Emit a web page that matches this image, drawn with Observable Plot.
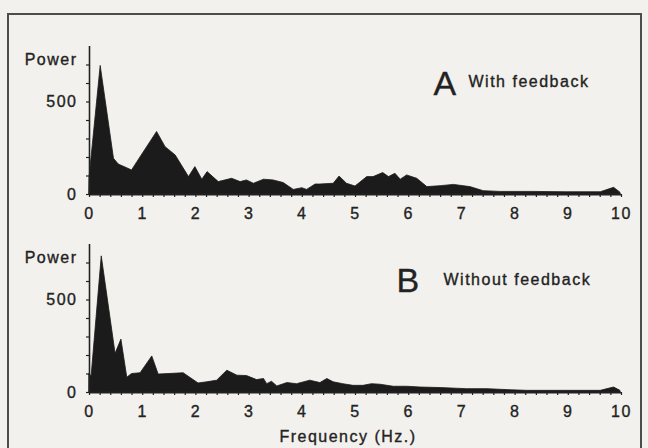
<!DOCTYPE html>
<html>
<head>
<meta charset="utf-8">
<script src="https://cdn.jsdelivr.net/npm/d3@7"></script>
<script src="https://cdn.jsdelivr.net/npm/@observablehq/plot@0.6"></script>
<style>
  html, body { margin: 0; padding: 0; background: #f2f1ed; }
  #page { position: relative; width: 648px; height: 448px; overflow: hidden; background: #f2f1ed;
          font-family: "Liberation Sans", Arial, Helvetica, sans-serif; color: #232323; }
  #box { position: absolute; left: 7px; top: 13px; width: 635px; height: 470px;
         border: 2px solid #4d4d4d; box-sizing: border-box; }
  .panel { position: absolute; left: 0; }
  .panel svg text { stroke: #232323; stroke-width: 0.35px; }
  #xlabel { position: absolute; left: 198px; width: 300px; top: 427px; line-height: 20px;
            text-align: center; font-size: 16px; letter-spacing: 1.5px; -webkit-text-stroke: 0.35px #232323; }
</style>
</head>
<body>
<div id="page">
  <div id="box"></div>
  <div id="panelA" class="panel" style="top:0px"></div>
  <div id="panelB" class="panel" style="top:198px"></div>
  <div id="xlabel">Frequency (Hz.)</div>
</div>
<script>
// Panel A: with feedback (frequency in Hz, power)
const freqA = [0, 0.21, 0.46, 0.55, 0.80, 0.90, 1.27, 1.43, 1.62, 1.87, 1.99, 2.12, 2.22, 2.43, 2.68,
  2.84, 2.96, 3.09, 3.28, 3.46, 3.65, 3.84, 4.00, 4.09, 4.25, 4.34, 4.59, 4.70, 4.84, 5.00,
  5.22, 5.34, 5.52, 5.63, 5.75, 5.85, 5.97, 6.16, 6.35, 6.60, 6.85, 7.16, 7.41, 7.73, 8.35,
  8.98, 9.61, 9.86, 9.98];
const powerA = [88, 695, 193, 162, 130, 175, 338, 256, 211, 94, 148, 80, 121, 67, 85,
  67, 76, 58, 80, 76, 62, 25, 34, 25, 54, 54, 58, 97, 58, 43,
  94, 94, 116, 94, 112, 80, 103, 85, 40, 45, 52, 40, 18, 14, 14,
  12, 12, 36, 10];

// Panel B: without feedback
const freqB = [0, 0.04, 0.23, 0.49, 0.60, 0.71, 0.80, 0.96, 1.18, 1.30, 1.77, 2.05, 2.21, 2.40, 2.59,
  2.78, 2.96, 3.15, 3.28, 3.34, 3.43, 3.53, 3.72, 3.90, 4.15, 4.34, 4.47, 4.59, 4.77, 4.96,
  5.15, 5.31, 5.47, 5.72, 5.97, 6.22, 6.60, 7.10, 7.48, 7.85, 8.23, 8.98, 9.61, 9.86, 9.98];
const powerB = [100, 88, 736, 209, 286, 80, 100, 104, 195, 97, 104, 49, 55, 64, 118,
  91, 89, 67, 73, 45, 58, 33, 51, 45, 64, 51, 73, 55, 45, 36,
  36, 45, 42, 31, 31, 27, 24, 18, 18, 13, 9, 9, 9, 27, 9];

// Tick labels
const xTickLabels = [0, 1, 2, 3, 4, 5, 6, 7, 8, 9, 10];
const xMinorTicks = d3.range(0, 51).map(i => i / 5);
const yTickLabels = [0, 500];
const yMinorTicks = [0, 100, 200, 300, 400, 500, 600, 700];

const ink = "#222";
const font = '"Liberation Sans", Arial, Helvetica, sans-serif';

function panel(freq, power, letter, title, letterLeft, letterBase, titleLeft, titleBase) {
  const data = freq.map((f, i) => ({f, p: power[i]}));
  const mL = 89, mT = 46;
  return Plot.plot({
    width: 648,
    height: 222,
    marginLeft: mL,
    marginRight: 27,
    marginTop: mT,
    marginBottom: 28,
    x: {domain: [0, 10]},
    y: {domain: [0, 800]},
    style: {background: "transparent", fontFamily: font, fontSize: "16px", color: ink,
            letterSpacing: "1.5px", overflow: "visible"},
    marks: [
      Plot.areaY(data, {x: "f", y: "p", fill: "#1b1b1b", stroke: "#1b1b1b", strokeWidth: 0.8}),
      Plot.ruleX([0], {y1: 0, y2: 800, stroke: ink, strokeWidth: 1.6}),
      Plot.ruleY([0], {x1: 0, x2: 10, stroke: ink, strokeWidth: 2}),
      Plot.axisX(xMinorTicks, {tickSize: 3, tickFormat: () => "", stroke: ink, strokeWidth: 1.2, label: null}),
      Plot.axisX(xTickLabels, {tickSize: 0, tickPadding: 13, fill: ink, label: null}),
      Plot.axisY(yMinorTicks, {tickSize: 3, tickFormat: () => "", stroke: ink, strokeWidth: 1.2, label: null}),
      Plot.axisY(yTickLabels, {tickSize: 0, tickPadding: 12, fill: ink, label: null}),
      Plot.text(["Power"], {frameAnchor: "top-left", dx: -12, dy: 64 - mT, textAnchor: "end",
                            lineAnchor: "bottom", fill: ink, fontSize: 16}),
      Plot.text([letter], {frameAnchor: "top-left", dx: letterLeft - mL, dy: letterBase - mT,
                           textAnchor: "start", lineAnchor: "bottom", fill: ink, fontSize: 34}),
      Plot.text([title], {frameAnchor: "top-left", dx: titleLeft - mL, dy: titleBase - mT,
                          textAnchor: "start", lineAnchor: "bottom", fill: ink, fontSize: 16})
    ]
  });
}

document.getElementById("panelA").appendChild(
  panel(freqA, powerA, "A", "With feedback", 433, 94, 468, 86));
document.getElementById("panelB").appendChild(
  panel(freqB, powerB, "B", "Without feedback", 396, 93, 443, 86));
</script>
</body>
</html>
